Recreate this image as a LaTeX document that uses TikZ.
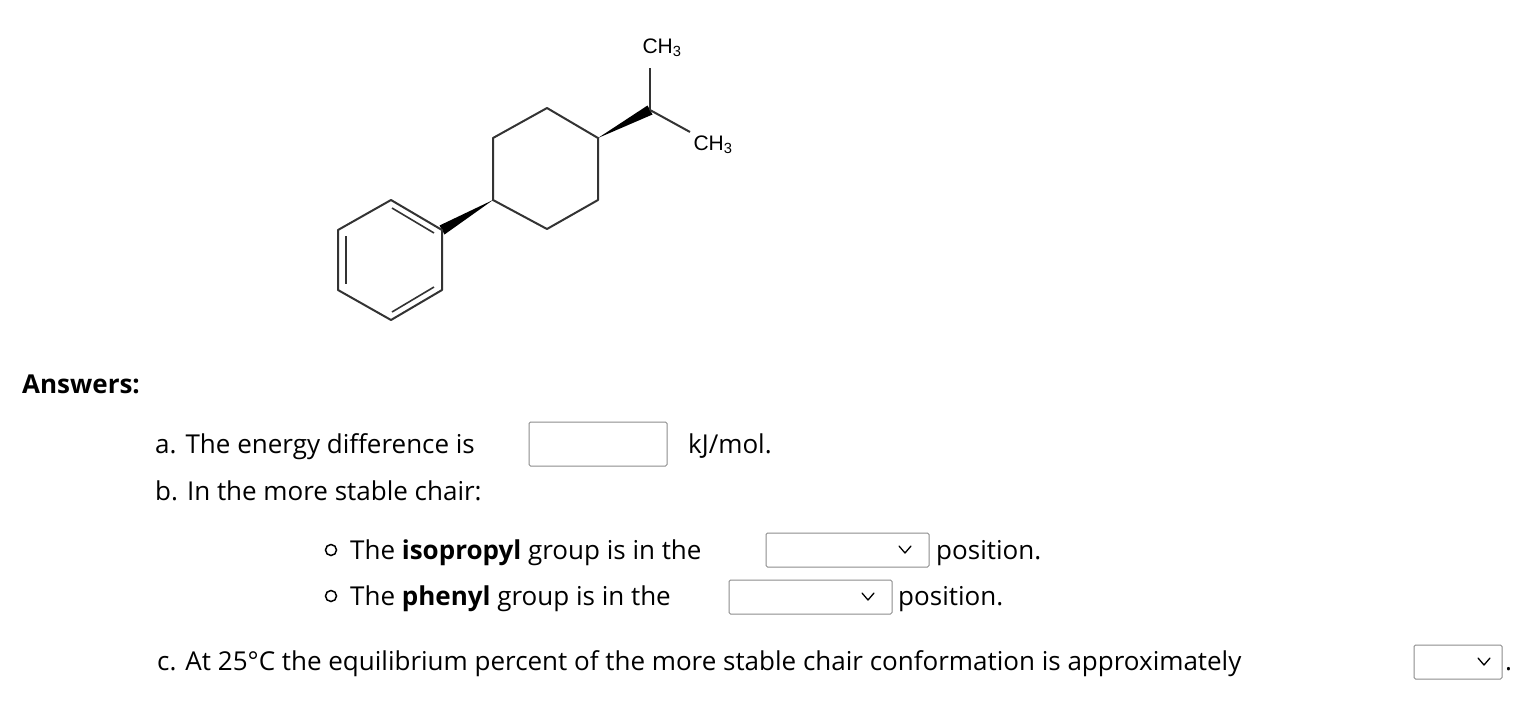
\documentclass[tikz,border=0pt]{standalone}
\usepackage{fontspec}
\setmainfont{Open Sans}
\newfontfamily\molfont{Liberation Sans}
\usetikzlibrary{calc}
\begin{document}
\begin{tikzpicture}[x=1pt,y=-1pt,
  bond/.style={line width=2pt,draw=black!80},
  txt/.style={anchor=base west,inner sep=0pt,font=\fontsize{26}{30}\selectfont},
  lab/.style={inner sep=0pt,font=\molfont\fontsize{21}{24}\selectfont},
  ansbox/.style={draw=black!45,line width=1pt,rounded corners=1.5pt},
  chev/.style={line width=1.3pt,line cap=round,line join=round}]
\useasboundingbox (0,0) rectangle (1516,724);
% cyclohexane
\coordinate (r1) at (547,108); \coordinate (r2) at (598,138);
\coordinate (r3) at (598,200); \coordinate (r4) at (547,229);
\coordinate (r5) at (493,200); \coordinate (r6) at (493,138);
\draw[bond,line join=round] (r1)--(r2)--(r3)--(r4)--(r5)--(r6)--cycle;
% isopropyl
\coordinate (ci) at (650,110);
\node[lab] (m1) at (662,48) {CH\textsubscript{3}};
\node[lab] (m2) at (713,145) {CH\textsubscript{3}};
\fill[black] (r2) -- ($(ci)+(-2.5,-4.5)$) -- ($(ci)+(2.5,4.5)$) -- cycle;
\draw[bond] (ci) -- (650,68);
\draw[bond] (ci) -- (690,132);
% benzene
\coordinate (b1) at (442,230); \coordinate (b2) at (442,290);
\coordinate (b3) at (391,320); \coordinate (b4) at (338,290);
\coordinate (b5) at (338,230); \coordinate (b6) at (391,200);
\fill[black] (r5) -- ($(b1)+(-2.5,-4.5)$) -- ($(b1)+(2.5,4.5)$) -- cycle;
\draw[bond,line join=round] (b1)--(b2)--(b3)--(b4)--(b5)--(b6)--cycle;
\draw[bond,line width=1.6pt] (346,236)--(346,284);
\draw[bond,line width=1.6pt] (392,208)--(434,233);
\draw[bond,line width=1.6pt] (434,287)--(392,312);
% text
\node[txt,font=\bfseries\fontsize{26}{30}\selectfont] (ans) at (22,393) {Answers:};
\node[txt] (ta) at (155,453) {a. The energy difference is};
\draw[ansbox] (529,422) rectangle (667,466);
\node[txt] (tu) at (688,453) {kJ/mol.};
\node[txt] (tb) at (155,500) {b. In the more stable chair:};
\draw[line width=1.5pt] (331,550) circle (5.5);
\node[txt] (t1) at (350,559) {The \textbf{isopropyl} group is in the};
\draw[ansbox] (766,533) rectangle (929,567);
\draw[chev] (899,546) -- (905,553) -- (911,546);
\node[txt] (t1b) at (936,559) {position.};
\draw[line width=1.5pt] (331,596) circle (5.5);
\node[txt] (t2) at (350,605) {The \textbf{phenyl} group is in the};
\draw[ansbox] (729,580) rectangle (892,614);
\draw[chev] (862,593) -- (868,600) -- (874,593);
\node[txt] (t2b) at (898,605) {position.};
\node[txt] (tc) at (157,670) {c. At 25°C the equilibrium percent of the more stable chair conformation is approximately};
\draw[ansbox] (1414,645) rectangle (1502,679);
\draw[chev] (1478,658) -- (1484,665) -- (1490,658);
\node[txt] (dot) at (1505,670) {.};
\end{tikzpicture}
\end{document}
